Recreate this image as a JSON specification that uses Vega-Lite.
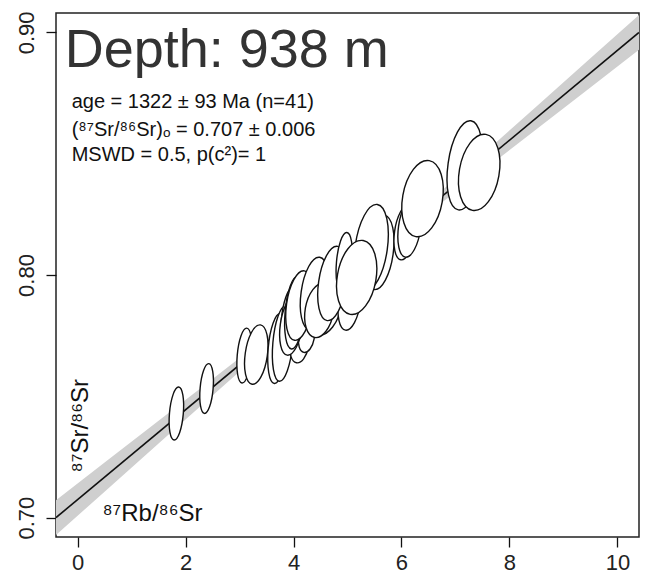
{
  "$schema": "https://vega.github.io/schema/vega-lite/v6.json",
  "autosize": {"type": "none"},
  "width": 583,
  "height": 524,
  "padding": {"left": 56, "top": 13, "right": 11, "bottom": 44},
  "background": "white",
  "config": {
    "view": {"stroke": "#222", "strokeWidth": 1.5},
    "axis": {"domain": false, "grid": false, "tickColor": "#111", "tickWidth": 1.3, "tickSize": 10, "labelFont": "Liberation Sans", "labelFontSize": 22, "labelColor": "#222", "title": null}
  },
  "datasets": {
    "band": [
      {"x": -0.4, "lo": 0.6928, "hi": 0.7072},
      {"x": 0.5, "lo": 0.7107, "hi": 0.7227},
      {"x": 1.5, "lo": 0.7305, "hi": 0.7399},
      {"x": 2.5, "lo": 0.7503, "hi": 0.7571},
      {"x": 3.5, "lo": 0.7701, "hi": 0.7744},
      {"x": 4.5, "lo": 0.7897, "hi": 0.7918},
      {"x": 5.0, "lo": 0.7992, "hi": 0.8008},
      {"x": 5.5, "lo": 0.8082, "hi": 0.8103},
      {"x": 6.5, "lo": 0.8256, "hi": 0.8299},
      {"x": 7.5, "lo": 0.8429, "hi": 0.8497},
      {"x": 8.5, "lo": 0.8601, "hi": 0.8695},
      {"x": 9.5, "lo": 0.8773, "hi": 0.8893},
      {"x": 10.4, "lo": 0.8928, "hi": 0.9072}
    ],
    "fit": [
      {"x": -0.4, "y": 0.700},
      {"x": 10.4, "y": 0.900}
    ],
    "ell": [
      {"i": 1, "x": 1.83, "y": 0.7429, "dy": 0.0219, "cls": "n"},
      {"i": 2, "x": 2.39, "y": 0.7532, "dy": 0.0206, "cls": "n"},
      {"i": 3, "x": 3.09, "y": 0.7668, "dy": 0.0227, "cls": "n"},
      {"i": 4, "x": 3.31, "y": 0.7672, "dy": 0.0247, "cls": "m"},
      {"i": 5, "x": 3.70, "y": 0.7697, "dy": 0.0289, "cls": "n"},
      {"i": 6, "x": 3.80, "y": 0.7718, "dy": 0.0313, "cls": "n"},
      {"i": 7, "x": 4.11, "y": 0.7709, "dy": 0.0144, "cls": "w"},
      {"i": 8, "x": 4.24, "y": 0.7742, "dy": 0.0124, "cls": "w"},
      {"i": 9, "x": 3.93, "y": 0.7812, "dy": 0.0268, "cls": "n"},
      {"i": 10, "x": 3.96, "y": 0.7792, "dy": 0.0247, "cls": "m"},
      {"i": 11, "x": 4.02, "y": 0.7845, "dy": 0.0301, "cls": "n"},
      {"i": 12, "x": 4.11, "y": 0.7874, "dy": 0.0289, "cls": "m"},
      {"i": 13, "x": 4.57, "y": 0.7895, "dy": 0.0289, "cls": "w"},
      {"i": 14, "x": 4.39, "y": 0.7924, "dy": 0.0301, "cls": "m"},
      {"i": 15, "x": 4.48, "y": 0.7854, "dy": 0.0227, "cls": "w"},
      {"i": 16, "x": 5.04, "y": 0.7895, "dy": 0.0247, "cls": "m"},
      {"i": 17, "x": 4.72, "y": 0.7965, "dy": 0.0309, "cls": "m"},
      {"i": 18, "x": 4.94, "y": 0.8052, "dy": 0.0247, "cls": "n"},
      {"i": 19, "x": 5.31, "y": 0.8039, "dy": 0.0289, "cls": "m"},
      {"i": 20, "x": 5.59, "y": 0.8093, "dy": 0.0309, "cls": "m"},
      {"i": 21, "x": 5.44, "y": 0.8113, "dy": 0.0359, "cls": "m"},
      {"i": 22, "x": 5.17, "y": 0.7990, "dy": 0.0309, "cls": "w"},
      {"i": 23, "x": 6.06, "y": 0.8175, "dy": 0.0227, "cls": "m"},
      {"i": 24, "x": 6.15, "y": 0.8196, "dy": 0.0247, "cls": "m"},
      {"i": 25, "x": 6.39, "y": 0.8315, "dy": 0.0318, "cls": "w"},
      {"i": 26, "x": 7.17, "y": 0.8452, "dy": 0.0371, "cls": "m"},
      {"i": 27, "x": 7.44, "y": 0.8423, "dy": 0.0318, "cls": "w"}
    ]
  },
  "layer": [
    {
      "data": {"name": "band"},
      "mark": {"type": "area", "color": "#cfcfcf", "opacity": 1, "clip": true},
      "encoding": {
        "x": {"field": "x", "type": "quantitative", "scale": {"domain": [-0.4, 10.4], "nice": false, "zero": false}, "axis": {"values": [0, 2, 4, 6, 8, 10], "labelPadding": 5}},
        "y": {"field": "lo", "type": "quantitative", "scale": {"domain": [0.692, 0.908], "nice": false, "zero": false}, "axis": {"values": [0.7, 0.8, 0.9], "format": ".2f", "labelAngle": -90, "labelAlign": "center", "labelBaseline": "bottom", "labelPadding": 8}},
        "y2": {"field": "hi"}
      }
    },
    {
      "data": {"name": "fit"},
      "mark": {"type": "line", "color": "#111", "strokeWidth": 1.6, "clip": true},
      "encoding": {
        "x": {"field": "x", "type": "quantitative"},
        "y": {"field": "y", "type": "quantitative"}
      }
    },
    {
      "data": {"name": "ell"},
      "mark": {"type": "point", "filled": false, "fill": "white", "fillOpacity": 1, "stroke": "#111", "strokeWidth": 1.4, "opacity": 1},
      "encoding": {
        "x": {"field": "x", "type": "quantitative"},
        "y": {"field": "y", "type": "quantitative"},
        "order": {"field": "i", "type": "quantitative"},
        "size": {"field": "dy", "type": "quantitative", "scale": {"type": "pow", "exponent": 2, "domain": [0, 0.04], "range": [0, 9417]}, "legend": null},
        "shape": {"field": "cls", "type": "nominal", "scale": {"domain": ["n", "m", "w"], "range": [
          "M0.0872,-0.9962A0.26,1,5,0,1,-0.0872,0.9962A0.26,1,5,0,1,0.0872,-0.9962Z",
          "M0.1392,-0.9903A0.37,1,8,0,1,-0.1392,0.9903A0.37,1,8,0,1,0.1392,-0.9903Z",
          "M0.1736,-0.9848A0.52,1,10,0,1,-0.1736,0.9848A0.52,1,10,0,1,0.1736,-0.9848Z"
        ]}, "legend": null}
      }
    },
    {
      "data": {"values": [{}]},
      "mark": {"type": "text", "font": "Liberation Sans", "fontSize": 54, "color": "#333", "align": "left", "baseline": "alphabetic"},
      "encoding": {"x": {"datum": -0.24}, "y": {"datum": 0.8856}, "text": {"value": "Depth: 938 m"}}
    },
    {
      "data": {"values": [{}]},
      "mark": {"type": "text", "font": "Liberation Sans", "fontSize": 20, "color": "#111", "align": "left", "baseline": "alphabetic"},
      "encoding": {"x": {"datum": -0.11}, "y": {"datum": 0.8687}, "text": {"value": "age = 1322 ± 93 Ma (n=41)"}}
    },
    {
      "data": {"values": [{}]},
      "mark": {"type": "text", "font": "Liberation Sans", "fontSize": 20, "color": "#111", "align": "left", "baseline": "alphabetic"},
      "encoding": {"x": {"datum": -0.11}, "y": {"datum": 0.8575}, "text": {"value": "(⁸⁷Sr/⁸⁶Sr)ₒ =  0.707 ± 0.006"}}
    },
    {
      "data": {"values": [{}]},
      "mark": {"type": "text", "font": "Liberation Sans", "fontSize": 20, "color": "#111", "align": "left", "baseline": "alphabetic"},
      "encoding": {"x": {"datum": -0.11}, "y": {"datum": 0.8468}, "text": {"value": "MSWD = 0.5, p(c²)= 1"}}
    },
    {
      "data": {"values": [{}]},
      "mark": {"type": "text", "font": "Liberation Sans", "fontSize": 24, "color": "#111", "align": "left", "baseline": "alphabetic"},
      "encoding": {"x": {"datum": 0.46}, "y": {"datum": 0.6988}, "text": {"value": "⁸⁷Rb/⁸⁶Sr"}}
    },
    {
      "data": {"values": [{}]},
      "mark": {"type": "text", "font": "Liberation Sans", "fontSize": 24, "color": "#111", "align": "center", "baseline": "alphabetic", "angle": 270},
      "encoding": {"x": {"datum": 0.185}, "y": {"datum": 0.7379}, "text": {"value": "⁸⁷Sr/⁸⁶Sr"}}
    }
  ]
}
